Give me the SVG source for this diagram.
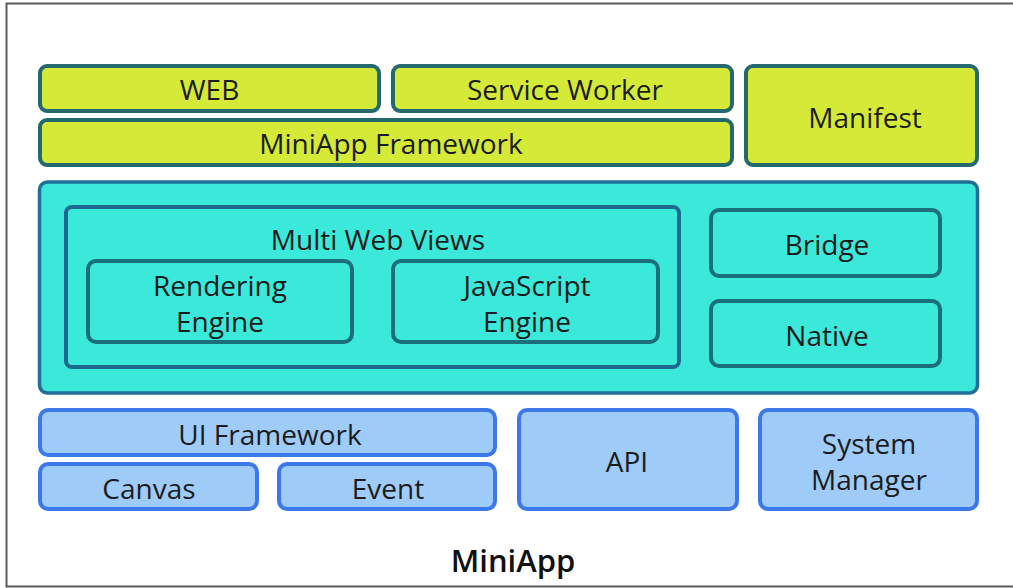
<svg xmlns="http://www.w3.org/2000/svg" width="1013" height="588" viewBox="0 0 1013 588">
  <style>
    .lbl { font-family: "Open Sans", "Liberation Sans", sans-serif; font-size: 28px; fill: #1c1c1c; text-anchor: middle; dominant-baseline: central; }
    .title { font-family: "Open Sans", "Liberation Sans", sans-serif; font-size: 31px; font-weight: 600; fill: #111; text-anchor: middle; }
    .yel { fill: #d5ea36; stroke: #23696e; stroke-width: 4; }
    .shell { fill: #3ae9d9; stroke: #1f6f97; stroke-width: 3.5; }
    .inner { fill: #3ae9d9; stroke: #1c6f7a; stroke-width: 4; }
    .views { fill: #3ae9d9; stroke: #1e6a8f; stroke-width: 4; }
    .blu { fill: #9ecbf8; stroke: #3b78ea; stroke-width: 4; }
  </style>
  <rect width="1013" height="588" fill="#ffffff"/>
  <!-- outer frame -->
  <path d="M1013,3.5 H6.5 V586.5 H1013" fill="none" stroke="#5a5a5a" stroke-width="2"/>

  <!-- top tier: web layer -->
  <g id="web"><rect class="yel" x="40" y="66" width="339" height="45" rx="7"/><text class="lbl" x="209.5" y="89">WEB</text></g>
  <g id="service-worker"><rect class="yel" x="393" y="66" width="339" height="45" rx="7"/><text class="lbl" x="565" y="89">Service Worker</text></g>
  <g id="miniapp-framework"><rect class="yel" x="40" y="120" width="692" height="45" rx="7"/><text class="lbl" x="391" y="143">MiniApp Framework</text></g>
  <g id="manifest"><rect class="yel" x="746" y="66" width="231" height="99" rx="7"/><text class="lbl" x="865" y="117">Manifest</text></g>

  <!-- middle tier: runtime -->
  <g id="runtime"><rect class="shell" x="39.5" y="182" width="938" height="211" rx="8"/></g>
  <g id="multi-web-views"><rect class="views" x="66" y="207" width="613" height="160" rx="6"/><text class="lbl" x="378" y="239">Multi Web Views</text></g>
  <g id="rendering-engine"><rect class="inner" x="88" y="261" width="264" height="81" rx="8"/><text class="lbl" x="220" y="285">Rendering</text><text class="lbl" x="220" y="321">Engine</text></g>
  <g id="javascript-engine"><rect class="inner" x="393" y="261" width="265" height="81" rx="8"/><text class="lbl" x="527" y="285">JavaScript</text><text class="lbl" x="527" y="321">Engine</text></g>
  <g id="bridge"><rect class="inner" x="711" y="210" width="229" height="66" rx="8"/><text class="lbl" x="827" y="244">Bridge</text></g>
  <g id="native"><rect class="inner" x="711" y="301" width="229" height="65" rx="8"/><text class="lbl" x="827" y="335">Native</text></g>

  <!-- bottom tier: platform -->
  <g id="ui-framework"><rect class="blu" x="40" y="410" width="455" height="45" rx="8"/><text class="lbl" x="270" y="434">UI Framework</text></g>
  <g id="canvas"><rect class="blu" x="40" y="464" width="217" height="45" rx="8"/><text class="lbl" x="149" y="488">Canvas</text></g>
  <g id="event"><rect class="blu" x="279" y="464" width="216" height="45" rx="8"/><text class="lbl" x="388" y="488">Event</text></g>
  <g id="api"><rect class="blu" x="519" y="410" width="218" height="99" rx="8"/><text class="lbl" x="627" y="461">API</text></g>
  <g id="system-manager"><rect class="blu" x="760" y="410" width="217" height="99" rx="8"/><text class="lbl" x="869" y="443">System</text><text class="lbl" x="869" y="479">Manager</text></g>

  <text class="title" x="513" y="572">MiniApp</text>
</svg>
